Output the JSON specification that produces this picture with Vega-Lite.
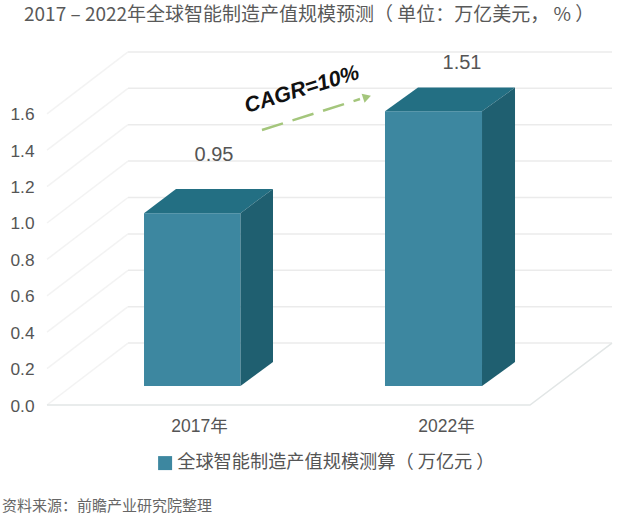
{
  "$schema": "https://vega.github.io/schema/vega-lite/v6.json",
  "autosize": "none",
  "padding": {"left": 38, "right": 0, "top": 28, "bottom": 111},
  "width": 602,
  "height": 377,
  "background": "white",
  "config": {"view": {"stroke": null}},
  "title": {
    "text": "2017 – 2022年全球智能制造产值规模预测（ 单位：万亿美元， %  ）",
    "anchor": "start",
    "frame": "group",
    "dx": -14,
    "offset": 3,
    "font": "Noto Sans CJK SC",
    "fontSize": 19,
    "fontWeight": "normal",
    "color": "#595959"
  },
  "datasets": {
    "wall": [
      {"level": "0.0", "x": 2013.923, "y": 0.0},
      {"level": "0.0", "x": 2015.563, "y": 0.34},
      {"level": "0.2", "x": 2013.923, "y": 0.2},
      {"level": "0.2", "x": 2015.563, "y": 0.54},
      {"level": "0.4", "x": 2013.923, "y": 0.4},
      {"level": "0.4", "x": 2015.563, "y": 0.74},
      {"level": "0.6", "x": 2013.923, "y": 0.6},
      {"level": "0.6", "x": 2015.563, "y": 0.94},
      {"level": "0.8", "x": 2013.923, "y": 0.8},
      {"level": "0.8", "x": 2015.563, "y": 1.14},
      {"level": "1.0", "x": 2013.923, "y": 1.0},
      {"level": "1.0", "x": 2015.563, "y": 1.34},
      {"level": "1.2", "x": 2013.923, "y": 1.2},
      {"level": "1.2", "x": 2015.563, "y": 1.54},
      {"level": "1.4", "x": 2013.923, "y": 1.4},
      {"level": "1.4", "x": 2015.563, "y": 1.74},
      {"level": "1.6", "x": 2013.923, "y": 1.6},
      {"level": "1.6", "x": 2015.563, "y": 1.94}
    ],
    "back": [
      {"level": "0.0", "x": 2015.563, "y": 0.34},
      {"level": "0.0", "x": 2025.36, "y": 0.34},
      {"level": "0.2", "x": 2015.563, "y": 0.54},
      {"level": "0.2", "x": 2025.36, "y": 0.54},
      {"level": "0.4", "x": 2015.563, "y": 0.74},
      {"level": "0.4", "x": 2025.36, "y": 0.74},
      {"level": "0.6", "x": 2015.563, "y": 0.94},
      {"level": "0.6", "x": 2025.36, "y": 0.94},
      {"level": "0.8", "x": 2015.563, "y": 1.14},
      {"level": "0.8", "x": 2025.36, "y": 1.14},
      {"level": "1.0", "x": 2015.563, "y": 1.34},
      {"level": "1.0", "x": 2025.36, "y": 1.34},
      {"level": "1.2", "x": 2015.563, "y": 1.54},
      {"level": "1.2", "x": 2025.36, "y": 1.54},
      {"level": "1.4", "x": 2015.563, "y": 1.74},
      {"level": "1.4", "x": 2025.36, "y": 1.74},
      {"level": "1.6", "x": 2015.563, "y": 1.94},
      {"level": "1.6", "x": 2025.36, "y": 1.94}
    ],
    "floor": [
      {"x": 2013.923, "y": 0.0},
      {"x": 2023.7, "y": 0.0},
      {"x": 2025.36, "y": 0.34}
    ],
    "front": [
      {"series": "全球智能制造产值规模测算（ 万亿元  ）", "x": 2015.887, "x2": 2017.84, "y": 1.054, "y2": 0.104},
      {"series": "全球智能制造产值规模测算（ 万亿元  ）", "x": 2020.765, "x2": 2022.729, "y": 1.614, "y2": 0.104}
    ],
    "top": [
      {"bar": "2017", "x": 2015.887, "y": 1.054, "y2": 1.054},
      {"bar": "2017", "x": 2016.534, "y": 1.187, "y2": 1.054},
      {"bar": "2017", "x": 2017.84, "y": 1.187, "y2": 1.054},
      {"bar": "2017", "x": 2018.498, "y": 1.187, "y2": 1.187},
      {"bar": "2022", "x": 2020.765, "y": 1.614, "y2": 1.614},
      {"bar": "2022", "x": 2021.433, "y": 1.744, "y2": 1.614},
      {"bar": "2022", "x": 2022.729, "y": 1.744, "y2": 1.614},
      {"bar": "2022", "x": 2023.397, "y": 1.744, "y2": 1.744}
    ],
    "side": [
      {"bar": "2017", "x": 2017.84, "y": 1.054, "y2": 0.104},
      {"bar": "2017", "x": 2018.498, "y": 1.187, "y2": 0.236},
      {"bar": "2022", "x": 2022.729, "y": 1.614, "y2": 0.104},
      {"bar": "2022", "x": 2023.397, "y": 1.744, "y2": 0.236}
    ],
    "trend": [
      {"x": 2018.275, "y": 1.511},
      {"x": 2020.259, "y": 1.681}
    ]
  },
  "encoding": {
    "x": {
      "field": "x",
      "type": "quantitative",
      "scale": {"domain": [2013.741, 2025.927], "nice": false, "zero": false},
      "axis": {
        "values": [2017, 2022],
        "labelExpr": "datum.value + '年'",
        "title": null,
        "domain": false,
        "ticks": false,
        "grid": false,
        "labelPadding": 12,
        "labelFont": "Liberation Sans, Noto Sans CJK SC",
        "labelFontSize": 17.5,
        "labelColor": "#555555"
      }
    },
    "y": {
      "field": "y",
      "type": "quantitative",
      "scale": {"domain": [0, 2.0714], "nice": false, "zero": false},
      "axis": {
        "values": [0, 0.2, 0.4, 0.6, 0.8, 1.0, 1.2, 1.4, 1.6],
        "format": ".1f",
        "title": null,
        "domain": false,
        "ticks": false,
        "grid": false,
        "labelPadding": 4,
        "labelOffset": 1,
        "labelFont": "Liberation Sans",
        "labelFontSize": 17.3,
        "labelColor": "#555555"
      }
    }
  },
  "layer": [
    {
      "data": {"name": "wall"},
      "mark": {"type": "line", "stroke": "#f3f3f3", "strokeWidth": 1.5},
      "encoding": {"detail": {"field": "level"}}
    },
    {
      "data": {"name": "back"},
      "mark": {"type": "line", "stroke": "#ebebeb", "strokeWidth": 1.5},
      "encoding": {"detail": {"field": "level"}}
    },
    {
      "data": {"name": "floor"},
      "mark": {"type": "line", "stroke": "#e2e6e6", "strokeWidth": 1.5}
    },
    {
      "data": {"name": "front"},
      "mark": {"type": "rect"},
      "encoding": {
        "x2": {"field": "x2"},
        "y2": {"field": "y2"},
        "color": {
          "field": "series",
          "type": "nominal",
          "scale": {"range": ["#3d87a0"]},
          "legend": {
            "title": null,
            "orient": "none",
            "legendX": 118,
            "legendY": 426,
            "padding": 0,
            "symbolType": "square",
            "symbolSize": 196,
            "symbolStrokeWidth": 0,
            "labelFont": "Noto Sans CJK SC",
            "labelFontSize": 18.2,
            "labelColor": "#555555",
            "labelLimit": 400,
            "labelOffset": 3
          }
        }
      }
    },
    {
      "data": {"name": "top"},
      "mark": {"type": "area", "color": "#236f83"},
      "encoding": {"y2": {"field": "y2"}, "detail": {"field": "bar"}}
    },
    {
      "data": {"name": "side"},
      "mark": {"type": "area", "color": "#1f5f70"},
      "encoding": {"y2": {"field": "y2"}, "detail": {"field": "bar"}}
    },
    {
      "data": {"values": [
        {"label": "0.95", "x": 2017.304, "y": 1.374},
        {"label": "1.51", "x": 2022.324, "y": 1.879}
      ]},
      "mark": {"type": "text", "font": "Liberation Sans", "fontSize": 20, "color": "#555555", "baseline": "middle"},
      "encoding": {"text": {"field": "label"}}
    },
    {
      "data": {"name": "trend"},
      "mark": {"type": "line", "stroke": "#a4c67c", "strokeWidth": 2.5, "strokeDash": [22, 10]}
    },
    {
      "data": {"values": [{"x": 2020.401, "y": 1.692}]},
      "mark": {"type": "point", "shape": "triangle-up", "angle": 72, "filled": true, "size": 90, "color": "#a4c67c", "opacity": 1}
    },
    {
      "data": {"values": [{"label": "CAGR=10%", "x": 2019.085, "y": 1.731}]},
      "mark": {"type": "text", "font": "Liberation Sans", "fontSize": 21.5, "fontWeight": "bold", "fontStyle": "italic", "angle": 343, "color": "#111111", "baseline": "middle"},
      "encoding": {"text": {"field": "label"}}
    },
    {
      "data": {"values": [{"label": "资料来源：前瞻产业研究院整理", "x": 2013.012, "y": -0.555}]},
      "mark": {"type": "text", "font": "Noto Sans CJK SC", "fontSize": 15, "color": "#666666", "align": "left", "baseline": "middle"},
      "encoding": {"text": {"field": "label"}}
    }
  ]
}
